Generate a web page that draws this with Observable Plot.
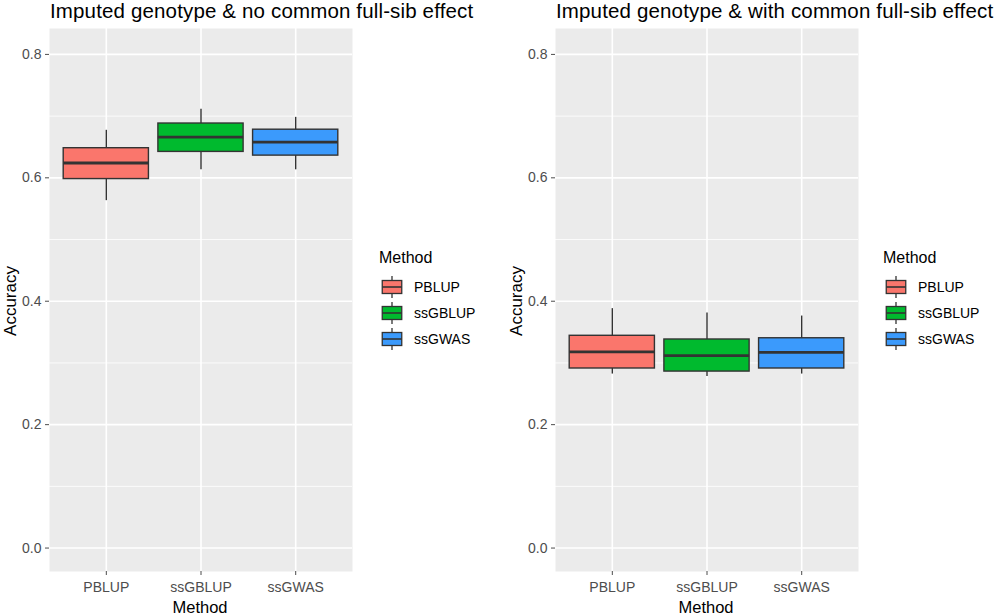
<!DOCTYPE html>
<html><head><meta charset="utf-8">
<script src="https://cdn.jsdelivr.net/npm/d3@7"></script>
<script src="https://cdn.jsdelivr.net/npm/@observablehq/plot@0.6"></script>
<style>
body{margin:0;background:#fff;font-family:"Liberation Sans",Arial,sans-serif;}
#root{position:relative;width:996px;height:614px;overflow:hidden;background:#fff;}
.abs{position:absolute;white-space:nowrap;line-height:1;}
.panel svg{display:block;}
.legend{position:absolute;}
.legend .ttl{font-size:16px;line-height:1;height:24px;}
.legend .row{display:flex;align-items:center;height:26px;}
.legend .row span{font-size:14px;line-height:1;margin-left:9px;color:#000;}
</style></head><body><div id="root"></div>
<script>
// ---- data ----
const methods = ["PBLUP", "ssGBLUP", "ssGWAS"];
const methodColors = ["#FA766C", "#00BA2E", "#3B9AFC"];
const panelTitles = ["Imputed genotype & no common full-sib effect", "Imputed genotype & with common full-sib effect"];
const xTitle = "Method";
const yTitle = "Accuracy";
const legendTitle = "Method";
const yTicks = [0, 0.2, 0.4, 0.6, 0.8];
const yMinorTicks = [0.1, 0.3, 0.5, 0.7];

// panel 1: no common full-sib effect
const noFsLower = [0.563, 0.613, 0.613];
const noFsQ1 = [0.598, 0.642, 0.636];
const noFsMedian = [0.624, 0.666, 0.658];
const noFsQ3 = [0.648, 0.688, 0.678];
const noFsUpper = [0.677, 0.711, 0.698];

// panel 2: with common full-sib effect
const withFsLower = [0.282, 0.278, 0.282];
const withFsQ1 = [0.291, 0.286, 0.291];
const withFsMedian = [0.318, 0.312, 0.317];
const withFsQ3 = [0.344, 0.338, 0.340];
const withFsUpper = [0.388, 0.381, 0.376];

// ---- build ----
const root = document.getElementById("root");
const colorScale = Plot.scale({color: {domain: methods, range: methodColors}});

function rowsOf(lo, q1, med, q3, hi) {
  return methods.map((m, i) => ({method: m, pos: i + 1, lo: lo[i], q1: q1[i], med: med[i], q3: q3[i], hi: hi[i]}));
}

function makePanel(rows) {
  const half = 0.45;
  return Plot.plot({
    width: 360, height: 614,
    marginLeft: 49, marginRight: 8, marginTop: 28, marginBottom: 43,
    style: {fontFamily: "'Liberation Sans', Arial, sans-serif", fontSize: "14px", background: "transparent", overflow: "visible"},
    x: {type: "linear", domain: [0.4, 3.6], axis: null},
    y: {domain: [-0.038, 0.842], axis: null},
    color: {domain: methods, range: methodColors},
    marks: [
      Plot.frame({fill: "#EBEBEB", stroke: null}),
      Plot.gridY(yMinorTicks, {stroke: "#fff", strokeOpacity: 1, strokeWidth: 0.8}),
      Plot.gridY(yTicks, {stroke: "#fff", strokeOpacity: 1, strokeWidth: 1.6}),
      Plot.gridX([1, 2, 3], {stroke: "#fff", strokeOpacity: 1, strokeWidth: 1.6}),
      Plot.ruleX(rows, {x: "pos", y1: "lo", y2: "hi", stroke: "#333333", strokeWidth: 1.4}),
      Plot.rectY(rows, {x1: d => d.pos - half, x2: d => d.pos + half, y1: "q1", y2: "q3", fill: "method", stroke: "#333333", strokeWidth: 1.4}),
      Plot.ruleY(rows, {x1: d => d.pos - half, x2: d => d.pos + half, y: "med", stroke: "#333333", strokeWidth: 2.8}),
      Plot.axisY(yTicks, {tickSize: 4, tickPadding: 4, tickFormat: d3.format(".1f"), fontSize: 14, color: "#4D4D4D", label: null}),
      Plot.axisX([1, 2, 3], {tickSize: 4, tickPadding: 7, tickFormat: d => methods[d - 1], fontSize: 14, color: "#4D4D4D", label: null})
    ]
  });
}

function addText(txt, left, top, size, extra) {
  const d = document.createElement("div");
  d.className = "abs";
  d.textContent = txt;
  d.style.left = left + "px";
  d.style.top = top + "px";
  d.style.fontSize = size + "px";
  if (extra) Object.assign(d.style, extra);
  root.appendChild(d);
  return d;
}

function makeLegend(left, top) {
  const lg = document.createElement("div");
  lg.className = "legend";
  lg.style.left = left + "px";
  lg.style.top = top + "px";
  const t = document.createElement("div");
  t.className = "ttl";
  t.textContent = legendTitle;
  lg.appendChild(t);
  methods.forEach(m => {
    const r = document.createElement("div");
    r.className = "row";
    const s = 26;
    const svg = d3.create("svg").attr("width", s).attr("height", s);
    svg.append("line").attr("x1", s / 2).attr("x2", s / 2).attr("y1", s * 0.08).attr("y2", s * 0.92).attr("stroke", "#333").attr("stroke-width", 1.3);
    svg.append("rect").attr("x", s * 0.125).attr("y", s * 0.25).attr("width", s * 0.75).attr("height", s * 0.5)
      .attr("fill", colorScale.apply(m)).attr("stroke", "#333").attr("stroke-width", 1.3);
    svg.append("line").attr("x1", s * 0.125).attr("x2", s * 0.875).attr("y1", s / 2).attr("y2", s / 2).attr("stroke", "#333").attr("stroke-width", 1.6);
    r.appendChild(svg.node());
    const sp = document.createElement("span");
    sp.textContent = m;
    r.appendChild(sp);
    lg.appendChild(r);
  });
  root.appendChild(lg);
}

const panels = [
  {rows: rowsOf(noFsLower, noFsQ1, noFsMedian, noFsQ3, noFsUpper), off: 0, legOff: 0},
  {rows: rowsOf(withFsLower, withFsQ1, withFsMedian, withFsQ3, withFsUpper), off: 506, legOff: 504}
];

panels.forEach((p, i) => {
  const wrap = document.createElement("div");
  wrap.className = "panel";
  wrap.style.position = "absolute";
  wrap.style.left = p.off + "px";
  wrap.style.top = "0px";
  wrap.appendChild(makePanel(p.rows));
  root.appendChild(wrap);
  addText(panelTitles[i], p.off + 50, 1.3, 20.5, {letterSpacing: "0.15px"});
  addText(xTitle, p.off + 200, 598.5, 16.5, {transform: "translateX(-50%)"});
  addText(yTitle, p.off + 10, 301, 17, {transform: "translate(-50%,-50%) rotate(-90deg)"});
  makeLegend(379 + p.legOff, 250);
});
</script>
</body></html>
